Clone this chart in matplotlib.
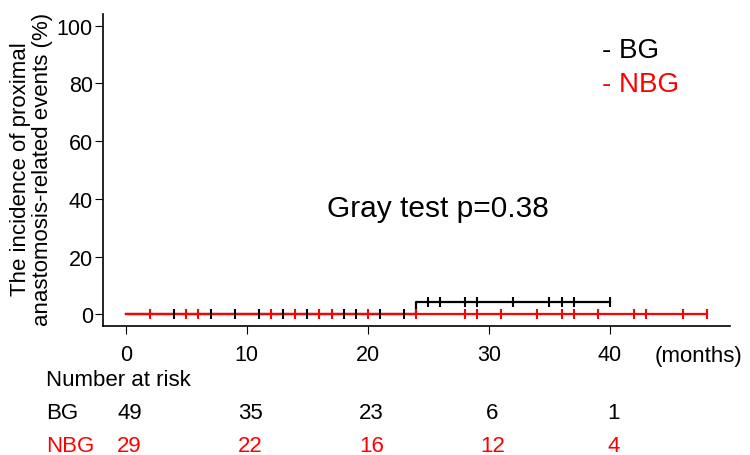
import matplotlib
matplotlib.use('Agg')
import matplotlib.pyplot as plt
import matplotlib.transforms as mtransforms
import numpy as np

plt.rcParams['font.family'] = ['Liberation Sans', 'DejaVu Sans']

# cumulative incidence curves (months, %)
bg_times = [0, 24, 40]
bg_incidence = [0, 4.3, 4.3]
nbg_times = [0, 48]
nbg_incidence = [0, 0]

# censored observations (months)
bg_censor = [4, 7, 9, 11, 13, 15, 18, 19, 21, 23, 25, 26, 28, 29, 32, 35, 36, 37, 40]
nbg_censor = [2, 5, 6, 12, 14, 16, 17, 20, 24, 28, 29, 31, 34, 36, 37, 39, 42, 43, 46, 48]

# number at risk table
risk_times = [0, 10, 20, 30, 40]
bg_risk = [49, 35, 23, 6, 1]
nbg_risk = [29, 22, 16, 12, 4]

p_text = 'Gray test p=0.38'
RED = '#ff0000'


def step_value(times, values, t):
    idx = np.searchsorted(times, t, side='right') - 1
    return np.array(values)[idx]


fig = plt.figure(figsize=(7.5, 4.56), dpi=100)
ax = fig.add_axes([0.1367, 0.2829, 0.8367, 0.6842])

ax.step(bg_times, bg_incidence, where='post', color='black', lw=1.6)
ax.plot(nbg_times, nbg_incidence, color=RED, lw=1.6)
ax.plot(bg_censor, step_value(bg_times, bg_incidence, bg_censor), ls='none',
        marker='|', ms=7.5, mew=1.5, color='black')
ax.plot(nbg_censor, step_value(nbg_times, nbg_incidence, nbg_censor), ls='none',
        marker='|', ms=7.5, mew=1.5, color=RED)

ax.set_xlim(-1.92, 49.92)
ax.set_ylim(-4, 104)
ax.set_xticks(risk_times)
ax.set_yticks(range(0, 101, 20))
ax.tick_params(axis='x', direction='out', length=6, width=0.8, labelsize=15.5, pad=7)
ax.tick_params(axis='y', direction='out', length=6, width=0.8, labelsize=15.5, pad=1)
for side in ['top', 'right']:
    ax.spines[side].set_visible(False)
for side in ['left', 'bottom']:
    ax.spines[side].set_linewidth(1.2)

fig.text(31.5 / 750, 1 - 169 / 456,
         'The incidence of proximal\nanastomosis-related events (%)',
         rotation=90, ha='center', va='center', multialignment='center',
         fontsize=16, linespacing=1.05)

ax.text(25.8, 34.0, p_text, ha='center', va='baseline', fontsize=21.5)

# legend as plain text
fig.text(602 / 750, 1 - 58 / 456, '- BG', color='black', fontsize=20, va='baseline')
fig.text(602 / 750, 1 - 92 / 456, '- NBG', color=RED, fontsize=20, va='baseline')

# risk table below the axis
trans = mtransforms.blended_transform_factory(ax.transData, fig.transFigure)
fig.text(655 / 750, 1 - 362 / 456, '(months)', fontsize=16, va='baseline')
fig.text(46 / 750, 1 - 386 / 456, 'Number at risk', fontsize=16, va='baseline')
fig.text(46 / 750, 1 - 419 / 456, 'BG', fontsize=16, va='baseline')
fig.text(46 / 750, 1 - 452.5 / 456, 'NBG', fontsize=16, va='baseline', color=RED)
for t, n_bg, n_nbg in zip(risk_times, bg_risk, nbg_risk):
    ax.text(t + 0.3, 1 - 419 / 456, str(n_bg), transform=trans, ha='center',
            va='baseline', fontsize=16)
    ax.text(t + 0.3, 1 - 452.5 / 456, str(n_nbg), transform=trans, ha='center',
            va='baseline', fontsize=16, color=RED)

fig.savefig('out.png', dpi=100)
